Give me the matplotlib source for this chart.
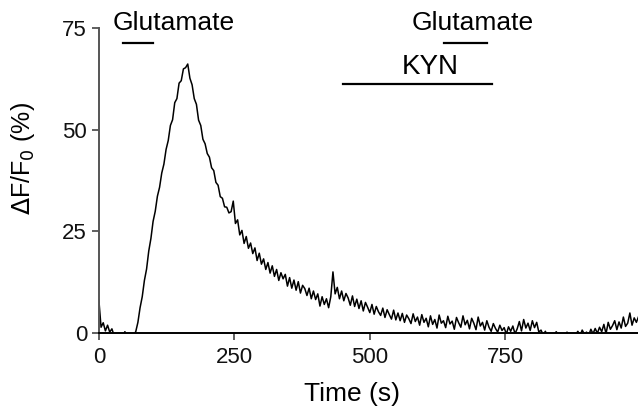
import numpy as np
import matplotlib
matplotlib.use('Agg')
import matplotlib.pyplot as plt

time_s = np.arange(0, 1000, 4)
dff = [
    8.0, 1.4, 2.5, 0.5, 1.9, 0.2, 1.0, -0.6, -1.0, -0.8,
    -1.0, -0.7, 0.3, -0.8, -1.2, -0.9, -0.5, 0.3, 2.6, 6.2,
    8.9, 12.9, 15.7, 20.1, 23.2, 27.4, 29.9, 33.6, 35.8, 39.3,
    41.5, 45.1, 47.3, 51.0, 52.4, 56.6, 57.6, 61.4, 62.0, 64.9,
    65.2, 66.1, 62.6, 61.0, 57.6, 56.2, 52.3, 51.0, 47.6, 46.5,
    44.1, 43.2, 40.6, 39.9, 37.0, 36.3, 33.5, 33.1, 31.0, 30.9,
    29.5, 29.8, 32.4, 26.9, 27.8, 24.1, 25.2, 22.0, 23.7, 20.8,
    22.1, 19.5, 20.9, 17.8, 19.6, 16.9, 18.2, 15.6, 17.3, 14.7,
    16.5, 13.9, 15.6, 12.9, 14.8, 13.3, 14.4, 11.5, 13.6, 11.0,
    13.0, 10.5, 12.6, 9.8, 11.7, 10.9, 9.2, 11.0, 8.4, 10.3,
    8.2, 9.6, 6.6, 8.9, 7.0, 8.4, 6.2, 8.9, 15.0, 9.6,
    11.2, 8.4, 10.3, 7.9, 9.7, 8.6, 6.8, 9.1, 6.5, 8.3,
    6.0, 7.9, 5.4, 7.5, 6.3, 5.0, 7.0, 4.6, 6.5, 5.2,
    4.3, 6.1, 3.8, 5.7, 4.5, 3.4, 5.6, 3.2, 4.9, 3.0,
    4.8, 2.6, 4.4, 3.5, 2.3, 4.7, 2.8, 3.9, 1.9, 4.5,
    2.6, 3.6, 1.5, 4.2, 2.1, 3.3, 1.2, 4.4, 2.4, 3.0,
    1.3, 4.1, 2.2, 2.9, 0.9, 3.8, 2.5, 1.4, 4.2, 2.0,
    3.1, 1.0, 3.6, 2.4, 0.8, 3.9, 1.7, 2.6, 0.7, 3.0,
    1.4, 0.4, 2.3, 1.1, 0.2, 1.9, 0.6, 1.3, -0.3, 1.5,
    0.4, 1.7, -0.2, 1.0, 2.8, 0.5, 3.3, 1.2, 2.4, 0.6,
    3.0, 1.3, 2.6, 0.2, 0.7, -0.5, 0.4, -0.8, -0.3, -0.9,
    -0.6, 0.3, -0.4, -1.0, -0.7, -0.5, 0.2, -0.8, -0.6, -0.9,
    -0.4, 0.4, -0.7, 0.7, -0.3, 0.2, -0.6, 0.9, -0.2, 1.1,
    -0.1, 1.4, 0.3, 2.1, -0.2, 2.6, 0.9, 1.8, 3.0, 0.8,
    2.7, 1.2, 3.9, 1.6, 2.4, 4.9, 1.9, 3.7, 2.6, 4.0,
]

# Application periods (s) and bar heights
glu1_period = [44, 100]
glu2_period = [637, 717]
kyn_period = [451, 726]
glu_bar_y = 71.2
kyn_bar_y = 61.3

x_ticks = [0, 250, 500, 750]
y_ticks = [0, 25, 50, 75]

plt.rcParams['font.family'] = ['Liberation Sans', 'DejaVu Sans']

fig = plt.figure(figsize=(6.38, 4.09), dpi=100)
ax = fig.add_axes([0.155, 0.186, 0.845, 0.746])

ax.plot(time_s, dff, color='black', lw=1.1)

ax.set_xlim(0, 995)
ax.set_ylim(0, 75)
ax.set_xticks(x_ticks)
ax.set_yticks(y_ticks)
ax.tick_params(labelsize=16, length=5, width=1.2, color='#444444', labelcolor='#111111')
ax.tick_params(axis='x', pad=5)

for side in ['top', 'right']:
    ax.spines[side].set_visible(False)
ax.spines['left'].set_color('#555555')
ax.spines['left'].set_linewidth(1.4)
ax.spines['bottom'].set_linewidth(1.4)

# axis titles placed where they sit in the original
fig.text(352 / 638, 1 - 394 / 409, 'Time (s)', fontsize=19, ha='center', va='center')
fig.text(23 / 638, 1 - 158 / 409, r'$\Delta$F/F$_0$ (%)', fontsize=18,
         rotation=90, ha='center', va='center')

# drug bars
ax.plot(glu1_period, [glu_bar_y] * 2, color='black', lw=1.6, clip_on=False)
ax.plot(glu2_period, [glu_bar_y] * 2, color='black', lw=1.6, clip_on=False)
ax.plot(kyn_period, [kyn_bar_y] * 2, color='black', lw=1.6, clip_on=False)

ax.text(np.mean(glu1_period) + 66, 74.4, 'Glutamate', fontsize=19, ha='center', va='baseline', clip_on=False)
ax.text(np.mean(glu2_period) + 13, 74.4, 'Glutamate', fontsize=19, ha='center', va='baseline', clip_on=False)
ax.text(611, 63.6, 'KYN', fontsize=20, ha='center', va='baseline', clip_on=False)

fig.savefig('out.png', dpi=100)
